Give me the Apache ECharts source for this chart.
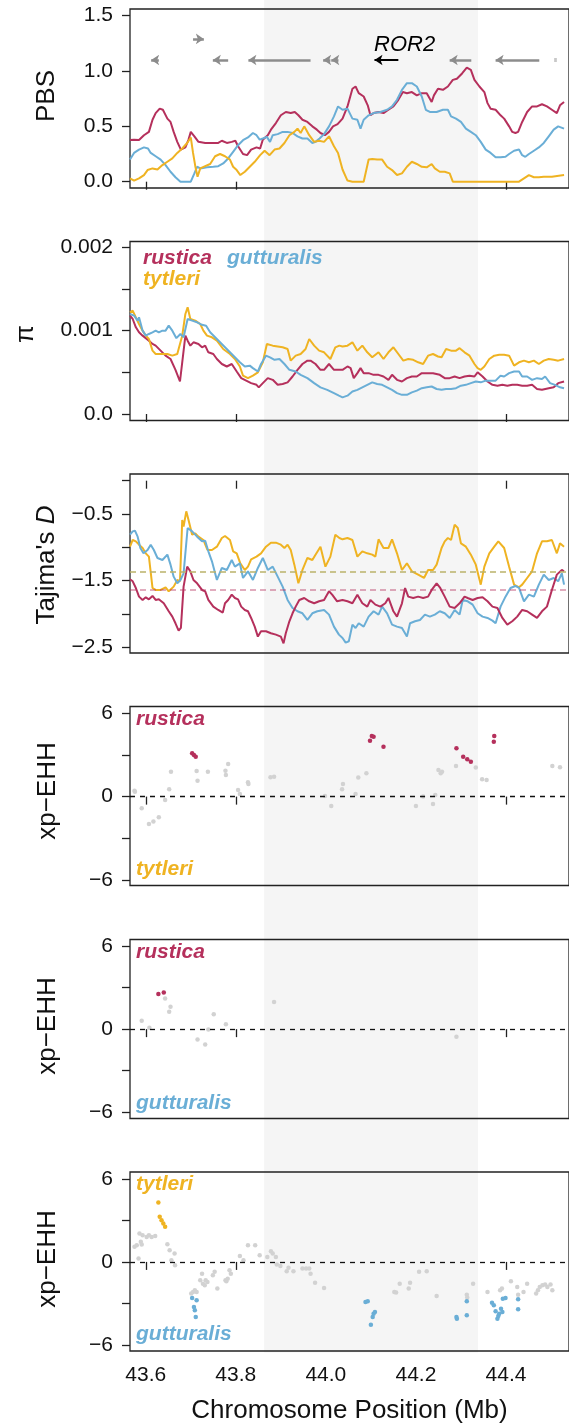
<!DOCTYPE html>
<html><head><meta charset="utf-8">
<script src="https://cdn.jsdelivr.net/npm/echarts@6/dist/echarts.min.js"></script>
<style>html,body{margin:0;padding:0;background:#fff}#c{width:569px;height:1426px}</style>
</head><body><div id="c"></div>
<script>
const FONT = "'Liberation Sans', Arial, Helvetica, sans-serif";
const C_RUS = '#b5305c', C_GUT = '#6aaed6', C_TYT = '#efb322', C_GRAY = '#d2d2d2';

// ---------- axes ----------
const xMin = 43.565, xMax = 44.54;
const xTicks = [43.6, 43.8, 44.0, 44.2, 44.4];
const shadeRegion = [43.863, 44.338];
const pbsTicks = [0, 0.5, 1.0, 1.5];
const piTicks = [0, 0.0005, 0.001, 0.0015, 0.002];
const piLabels = [0, 0.001, 0.002];
const tajTicks = [0, -0.5, -1, -1.5, -2, -2.5];
const tajLabels = [-0.5, -1.5, -2.5];
const xpTicks = [-6, -3, 0, 3, 6];
const xpLabels = [-6, 0, 6];
const tajMeans = {rustica: -1.63, gutturalis: -1.37, tytleri: -1.36};

// ---------- genes ----------
const geneStart = [43.612, 43.705, 43.749, 43.828, 43.994, 44.012, 44.108, 44.275, 44.377, 44.507];
const geneEnd   = [43.629, 43.729, 43.783, 43.966, 44.010, 44.028, 44.161, 44.323, 44.474, 44.513];
const geneStrand= [-1, 1, -1, -1, -1, -1, -1, -1, -1, 0];
const geneRow   = [1.1, 1.29, 1.1, 1.1, 1.1, 1.1, 1.1, 1.1, 1.1, 1.1];
const geneName  = ['', '', '', '', '', '', 'ROR2', '', '', ''];
const geneLabelPos = [44.175, 1.235];

// ---------- PBS ----------
const pbsRustica = [[43.565,0.376],[43.574,0.38],[43.585,0.376],[43.596,0.42],[43.607,0.45],[43.615,0.56],[43.622,0.62],[43.631,0.66],[43.638,0.65],[43.648,0.57],[43.655,0.54],[43.662,0.45],[43.670,0.36],[43.678,0.29],[43.688,0.31],[43.695,0.38],[43.700,0.45],[43.708,0.41],[43.717,0.36],[43.732,0.35],[43.747,0.35],[43.761,0.35],[43.769,0.37],[43.780,0.35],[43.791,0.36],[43.799,0.37],[43.805,0.32],[43.816,0.25],[43.825,0.24],[43.834,0.29],[43.846,0.31],[43.854,0.30],[43.860,0.38],[43.871,0.42],[43.878,0.47],[43.889,0.53],[43.900,0.60],[43.911,0.63],[43.922,0.62],[43.931,0.63],[43.939,0.60],[43.948,0.56],[43.959,0.54],[43.970,0.50],[43.980,0.47],[43.988,0.44],[43.998,0.42],[44.007,0.45],[44.016,0.50],[44.026,0.52],[44.037,0.57],[44.048,0.68],[44.059,0.84],[44.066,0.86],[44.073,0.80],[44.084,0.77],[44.093,0.69],[44.099,0.60],[44.106,0.62],[44.117,0.63],[44.128,0.62],[44.139,0.65],[44.150,0.68],[44.161,0.74],[44.171,0.81],[44.180,0.80],[44.191,0.81],[44.202,0.78],[44.213,0.80],[44.224,0.80],[44.235,0.72],[44.240,0.78],[44.249,0.84],[44.260,0.83],[44.271,0.86],[44.282,0.92],[44.291,0.93],[44.303,0.98],[44.313,1.03],[44.322,1.01],[44.330,0.92],[44.341,0.86],[44.352,0.81],[44.359,0.71],[44.366,0.66],[44.377,0.65],[44.388,0.60],[44.396,0.57],[44.407,0.50],[44.414,0.45],[44.421,0.44],[44.427,0.45],[44.436,0.54],[44.447,0.63],[44.458,0.68],[44.469,0.68],[44.480,0.70],[44.491,0.68],[44.502,0.65],[44.513,0.62],[44.520,0.69],[44.529,0.72]];
const pbsGutturalis = [[43.565,0.20],[43.574,0.26],[43.585,0.29],[43.596,0.31],[43.605,0.30],[43.611,0.26],[43.622,0.23],[43.633,0.20],[43.644,0.15],[43.655,0.09],[43.666,0.04],[43.677,0.0],[43.688,0.0],[43.700,0.0],[43.708,0.075],[43.714,0.135],[43.721,0.12],[43.736,0.13],[43.750,0.135],[43.761,0.14],[43.772,0.165],[43.783,0.21],[43.794,0.27],[43.805,0.33],[43.816,0.375],[43.827,0.40],[43.838,0.44],[43.846,0.42],[43.853,0.38],[43.860,0.39],[43.869,0.405],[43.876,0.36],[43.882,0.42],[43.893,0.43],[43.904,0.45],[43.915,0.45],[43.926,0.44],[43.937,0.41],[43.948,0.39],[43.959,0.39],[43.970,0.35],[43.977,0.36],[43.986,0.39],[43.996,0.43],[44.007,0.50],[44.018,0.59],[44.027,0.68],[44.037,0.65],[44.048,0.66],[44.059,0.57],[44.070,0.56],[44.077,0.48],[44.084,0.56],[44.095,0.60],[44.106,0.62],[44.121,0.63],[44.136,0.65],[44.147,0.68],[44.158,0.74],[44.169,0.83],[44.180,0.89],[44.191,0.89],[44.202,0.86],[44.213,0.77],[44.222,0.65],[44.231,0.63],[44.246,0.63],[44.260,0.65],[44.271,0.65],[44.278,0.59],[44.289,0.57],[44.300,0.54],[44.311,0.48],[44.322,0.45],[44.333,0.42],[44.344,0.36],[44.355,0.29],[44.366,0.26],[44.377,0.22],[44.388,0.22],[44.399,0.225],[44.407,0.25],[44.418,0.28],[44.429,0.29],[44.436,0.24],[44.443,0.225],[44.451,0.25],[44.462,0.28],[44.473,0.31],[44.484,0.35],[44.495,0.41],[44.506,0.47],[44.516,0.50],[44.529,0.48]];
const pbsTytleri = [[43.565,0.03],[43.574,0.01],[43.585,0.03],[43.596,0.06],[43.604,0.105],[43.615,0.12],[43.626,0.11],[43.637,0.15],[43.648,0.18],[43.659,0.21],[43.670,0.26],[43.681,0.30],[43.692,0.35],[43.700,0.40],[43.705,0.26],[43.710,0.14],[43.715,0.045],[43.721,0.12],[43.732,0.14],[43.743,0.16],[43.754,0.23],[43.765,0.25],[43.776,0.23],[43.787,0.20],[43.794,0.135],[43.802,0.105],[43.810,0.06],[43.820,0.09],[43.831,0.135],[43.842,0.18],[43.854,0.24],[43.864,0.28],[43.875,0.24],[43.886,0.29],[43.897,0.30],[43.908,0.35],[43.919,0.42],[43.930,0.45],[43.937,0.48],[43.944,0.44],[43.952,0.50],[43.963,0.42],[43.974,0.36],[43.985,0.37],[43.996,0.36],[44.007,0.41],[44.018,0.32],[44.027,0.26],[44.037,0.11],[44.048,0.01],[44.059,0.0],[44.084,0.0],[44.095,0.20],[44.103,0.205],[44.114,0.20],[44.125,0.20],[44.136,0.135],[44.147,0.105],[44.158,0.06],[44.169,0.075],[44.180,0.135],[44.191,0.18],[44.202,0.16],[44.213,0.135],[44.224,0.13],[44.235,0.16],[44.242,0.12],[44.253,0.09],[44.264,0.09],[44.275,0.075],[44.282,0.0],[44.429,0.0],[44.440,0.03],[44.451,0.06],[44.462,0.04],[44.473,0.04],[44.484,0.045],[44.502,0.045],[44.529,0.06]];

// ---------- pi (x 0.001) ----------
const piRustica = [[43.565,1.18],[43.571,1.14],[43.578,1.04],[43.585,0.98],[43.593,0.94],[43.600,0.91],[43.607,0.88],[43.615,0.84],[43.622,0.82],[43.633,0.76],[43.644,0.70],[43.655,0.66],[43.666,0.53],[43.676,0.39],[43.681,0.62],[43.688,0.94],[43.693,0.88],[43.699,0.82],[43.706,0.86],[43.717,0.84],[43.725,0.80],[43.732,0.82],[43.739,0.74],[43.750,0.72],[43.758,0.66],[43.769,0.60],[43.780,0.57],[43.791,0.60],[43.802,0.51],[43.812,0.43],[43.823,0.40],[43.834,0.37],[43.846,0.35],[43.851,0.32],[43.860,0.37],[43.871,0.43],[43.882,0.41],[43.893,0.35],[43.904,0.36],[43.915,0.38],[43.926,0.45],[43.937,0.53],[43.948,0.60],[43.959,0.64],[43.966,0.64],[43.977,0.60],[43.988,0.53],[43.996,0.53],[44.007,0.60],[44.018,0.53],[44.029,0.53],[44.037,0.53],[44.048,0.57],[44.055,0.55],[44.062,0.43],[44.070,0.49],[44.077,0.55],[44.084,0.49],[44.095,0.49],[44.106,0.47],[44.117,0.47],[44.128,0.45],[44.139,0.41],[44.147,0.47],[44.158,0.41],[44.169,0.39],[44.180,0.43],[44.191,0.45],[44.202,0.45],[44.213,0.49],[44.224,0.49],[44.238,0.49],[44.253,0.47],[44.264,0.43],[44.275,0.43],[44.286,0.45],[44.297,0.43],[44.308,0.45],[44.319,0.46],[44.330,0.45],[44.337,0.50],[44.348,0.45],[44.359,0.39],[44.370,0.35],[44.381,0.34],[44.392,0.35],[44.403,0.34],[44.414,0.35],[44.425,0.35],[44.436,0.34],[44.447,0.34],[44.458,0.35],[44.469,0.30],[44.480,0.29],[44.495,0.31],[44.506,0.32],[44.516,0.37],[44.529,0.39]];
const piGutturalis = [[43.565,1.20],[43.574,1.18],[43.582,1.12],[43.585,1.16],[43.593,1.00],[43.600,0.94],[43.607,0.96],[43.615,0.98],[43.622,1.00],[43.629,0.98],[43.637,1.00],[43.644,1.00],[43.651,1.06],[43.659,1.00],[43.668,0.91],[43.677,0.96],[43.684,0.92],[43.693,1.14],[43.703,1.12],[43.714,1.10],[43.725,1.07],[43.734,1.06],[43.743,0.98],[43.754,0.92],[43.765,0.86],[43.776,0.80],[43.787,0.74],[43.798,0.68],[43.809,0.62],[43.820,0.57],[43.831,0.58],[43.838,0.55],[43.849,0.51],[43.856,0.60],[43.867,0.70],[43.876,0.68],[43.886,0.65],[43.897,0.66],[43.908,0.60],[43.919,0.53],[43.933,0.51],[43.944,0.47],[43.959,0.43],[43.974,0.37],[43.988,0.32],[44.003,0.29],[44.018,0.25],[44.029,0.22],[44.037,0.20],[44.048,0.22],[44.059,0.27],[44.070,0.29],[44.081,0.32],[44.092,0.35],[44.103,0.38],[44.114,0.36],[44.125,0.35],[44.136,0.32],[44.147,0.29],[44.158,0.25],[44.169,0.23],[44.180,0.23],[44.191,0.26],[44.202,0.28],[44.213,0.31],[44.224,0.32],[44.235,0.33],[44.246,0.30],[44.257,0.29],[44.267,0.30],[44.278,0.30],[44.289,0.31],[44.300,0.34],[44.311,0.35],[44.322,0.37],[44.333,0.39],[44.344,0.38],[44.355,0.40],[44.366,0.40],[44.377,0.40],[44.388,0.46],[44.396,0.45],[44.407,0.49],[44.418,0.51],[44.429,0.51],[44.436,0.45],[44.447,0.45],[44.458,0.41],[44.469,0.43],[44.480,0.42],[44.487,0.45],[44.498,0.37],[44.509,0.35],[44.520,0.32],[44.529,0.31]];
const piTytleri = [[43.565,1.22],[43.571,1.24],[43.578,1.16],[43.585,1.08],[43.593,1.00],[43.600,0.94],[43.607,0.90],[43.615,0.76],[43.622,0.72],[43.633,0.72],[43.648,0.72],[43.659,0.70],[43.670,0.72],[43.673,0.78],[43.681,0.94],[43.688,1.20],[43.693,1.28],[43.699,1.14],[43.710,1.12],[43.721,1.08],[43.728,1.00],[43.736,0.94],[43.747,0.92],[43.758,0.88],[43.772,0.78],[43.787,0.72],[43.798,0.66],[43.809,0.57],[43.816,0.46],[43.827,0.43],[43.838,0.46],[43.849,0.50],[43.860,0.62],[43.869,0.84],[43.882,0.82],[43.893,0.81],[43.904,0.80],[43.915,0.78],[43.922,0.64],[43.933,0.70],[43.944,0.72],[43.955,0.78],[43.963,0.90],[43.974,0.82],[43.985,0.76],[43.996,0.74],[44.010,0.66],[44.021,0.80],[44.030,0.82],[44.037,0.81],[44.048,0.82],[44.059,0.86],[44.070,0.76],[44.081,0.82],[44.092,0.74],[44.103,0.68],[44.117,0.74],[44.128,0.66],[44.139,0.74],[44.150,0.80],[44.161,0.72],[44.172,0.64],[44.183,0.66],[44.194,0.65],[44.205,0.62],[44.216,0.60],[44.227,0.70],[44.238,0.72],[44.249,0.69],[44.257,0.68],[44.267,0.78],[44.278,0.76],[44.289,0.76],[44.297,0.79],[44.308,0.74],[44.319,0.70],[44.330,0.60],[44.337,0.55],[44.344,0.53],[44.352,0.57],[44.363,0.66],[44.374,0.70],[44.385,0.71],[44.396,0.71],[44.407,0.70],[44.418,0.58],[44.429,0.62],[44.440,0.64],[44.451,0.62],[44.462,0.64],[44.473,0.60],[44.484,0.64],[44.495,0.66],[44.506,0.65],[44.516,0.64],[44.529,0.66]];

// ---------- Tajima's D ----------
const tajRustica = [[43.565,-1.48],[43.571,-1.51],[43.578,-1.61],[43.585,-1.74],[43.593,-1.79],[43.600,-1.75],[43.607,-1.78],[43.615,-1.73],[43.622,-1.79],[43.629,-1.78],[43.640,-1.84],[43.651,-1.96],[43.659,-2.04],[43.666,-2.14],[43.673,-2.25],[43.678,-2.21],[43.684,-1.59],[43.692,-1.29],[43.699,-1.36],[43.706,-1.49],[43.714,-1.54],[43.725,-1.64],[43.732,-1.66],[43.739,-1.79],[43.750,-1.89],[43.761,-1.94],[43.771,-1.98],[43.776,-1.84],[43.783,-1.79],[43.791,-1.71],[43.798,-1.76],[43.805,-1.78],[43.812,-1.89],[43.820,-1.94],[43.827,-1.96],[43.834,-2.06],[43.842,-2.19],[43.849,-2.34],[43.856,-2.26],[43.867,-2.26],[43.878,-2.29],[43.889,-2.31],[43.900,-2.34],[43.906,-2.44],[43.911,-2.29],[43.919,-2.11],[43.926,-1.99],[43.933,-1.89],[43.941,-1.79],[43.952,-1.76],[43.963,-1.81],[43.974,-1.84],[43.985,-1.81],[43.996,-1.79],[44.007,-1.66],[44.014,-1.71],[44.025,-1.81],[44.037,-1.79],[44.048,-1.81],[44.059,-1.84],[44.070,-1.71],[44.081,-1.84],[44.092,-1.89],[44.099,-1.79],[44.110,-1.86],[44.121,-1.89],[44.132,-1.84],[44.139,-1.76],[44.150,-1.96],[44.158,-2.04],[44.169,-1.84],[44.176,-1.61],[44.183,-1.74],[44.194,-1.76],[44.205,-1.74],[44.216,-1.76],[44.227,-1.74],[44.235,-1.64],[44.246,-1.54],[44.254,-1.61],[44.264,-1.74],[44.275,-1.89],[44.286,-1.91],[44.297,-1.84],[44.308,-1.74],[44.315,-1.76],[44.326,-1.79],[44.337,-1.76],[44.348,-1.75],[44.359,-1.81],[44.370,-1.89],[44.381,-1.91],[44.392,-2.06],[44.403,-2.16],[44.414,-2.11],[44.425,-2.04],[44.436,-1.94],[44.447,-1.96],[44.458,-2.01],[44.469,-2.06],[44.480,-1.96],[44.491,-1.89],[44.502,-1.64],[44.513,-1.41],[44.524,-1.34],[44.529,-1.36]];
const tajGutturalis = [[43.565,-0.81],[43.571,-0.76],[43.576,-0.75],[43.582,-0.84],[43.588,-1.01],[43.595,-1.09],[43.604,-1.04],[43.611,-0.96],[43.618,-1.04],[43.626,-1.16],[43.637,-1.19],[43.648,-1.11],[43.655,-1.26],[43.662,-1.44],[43.670,-1.54],[43.677,-1.49],[43.684,-1.39],[43.693,-0.71],[43.703,-0.76],[43.714,-0.84],[43.725,-0.91],[43.732,-0.90],[43.739,-1.06],[43.747,-1.21],[43.758,-1.49],[43.769,-1.31],[43.780,-1.34],[43.791,-1.19],[43.798,-1.29],[43.809,-1.24],[43.816,-1.46],[43.827,-1.36],[43.838,-1.49],[43.849,-1.31],[43.860,-1.16],[43.871,-1.34],[43.882,-1.29],[43.893,-1.44],[43.904,-1.59],[43.915,-1.79],[43.926,-1.91],[43.937,-1.96],[43.948,-1.99],[43.959,-2.09],[43.970,-1.99],[43.981,-1.96],[43.996,-1.94],[44.007,-2.01],[44.018,-2.19],[44.029,-2.31],[44.037,-2.36],[44.044,-2.43],[44.051,-2.41],[44.059,-2.16],[44.066,-2.21],[44.073,-2.14],[44.084,-2.19],[44.095,-2.04],[44.106,-1.96],[44.117,-2.01],[44.125,-1.89],[44.136,-1.99],[44.147,-2.16],[44.158,-2.19],[44.169,-2.21],[44.180,-2.34],[44.187,-2.14],[44.198,-2.11],[44.209,-2.09],[44.220,-2.01],[44.231,-2.04],[44.242,-2.01],[44.253,-1.96],[44.264,-1.99],[44.275,-2.06],[44.286,-1.94],[44.297,-2.01],[44.304,-1.79],[44.315,-1.81],[44.326,-1.86],[44.337,-1.99],[44.348,-2.04],[44.359,-2.06],[44.370,-2.10],[44.377,-2.14],[44.388,-1.89],[44.399,-1.74],[44.410,-1.61],[44.421,-1.58],[44.429,-1.61],[44.440,-1.81],[44.451,-1.71],[44.462,-1.74],[44.473,-1.56],[44.484,-1.41],[44.495,-1.49],[44.506,-1.46],[44.516,-1.51],[44.524,-1.39],[44.529,-1.56]];
const tajTytleri = [[43.565,-0.99],[43.571,-0.89],[43.578,-0.91],[43.585,-0.96],[43.593,-1.01],[43.600,-1.09],[43.607,-1.14],[43.615,-1.61],[43.622,-1.64],[43.633,-1.64],[43.644,-1.60],[43.651,-1.66],[43.662,-1.59],[43.670,-1.49],[43.676,-1.51],[43.681,-0.59],[43.684,-0.69],[43.690,-0.46],[43.695,-0.59],[43.703,-0.81],[43.710,-0.79],[43.717,-0.84],[43.728,-0.89],[43.737,-1.04],[43.747,-1.04],[43.758,-0.99],[43.769,-0.86],[43.776,-0.83],[43.787,-0.89],[43.794,-1.06],[43.802,-1.09],[43.810,-1.24],[43.820,-1.34],[43.827,-1.29],[43.834,-1.18],[43.846,-1.14],[43.856,-1.09],[43.867,-0.99],[43.878,-0.93],[43.889,-0.93],[43.900,-0.96],[43.908,-1.01],[43.915,-0.96],[43.922,-1.04],[43.930,-1.26],[43.939,-1.54],[43.948,-1.34],[43.959,-1.16],[43.970,-1.19],[43.977,-1.11],[43.988,-0.99],[43.999,-1.29],[44.010,-1.14],[44.021,-0.81],[44.030,-0.86],[44.037,-0.88],[44.048,-0.86],[44.059,-0.89],[44.070,-1.14],[44.081,-1.06],[44.092,-1.09],[44.103,-1.11],[44.110,-1.14],[44.117,-0.88],[44.128,-1.01],[44.139,-1.01],[44.147,-0.88],[44.158,-1.09],[44.169,-1.34],[44.180,-1.24],[44.191,-1.36],[44.205,-1.41],[44.218,-1.46],[44.227,-1.34],[44.238,-1.34],[44.246,-1.26],[44.257,-1.01],[44.264,-0.91],[44.271,-0.86],[44.278,-0.89],[44.286,-0.66],[44.293,-0.71],[44.300,-0.94],[44.311,-0.99],[44.322,-1.11],[44.333,-1.26],[44.344,-1.56],[44.352,-1.29],[44.363,-1.09],[44.374,-0.99],[44.383,-0.91],[44.396,-1.01],[44.407,-1.29],[44.418,-1.56],[44.429,-1.60],[44.436,-1.56],[44.447,-1.46],[44.458,-1.36],[44.469,-1.09],[44.480,-0.91],[44.491,-0.91],[44.502,-0.89],[44.513,-1.09],[44.520,-0.94],[44.529,-0.99]];

// ---------- xp-EHH ----------
const xpRusTytNeutral = [[43.575,0.43],[43.576,0.36],[43.591,-0.84],[43.607,-1.97],[43.617,-1.80],[43.629,-1.49],[43.643,-0.24],[43.652,0.53],[43.656,1.80],[43.713,1.85],[43.715,1.15],[43.738,1.80],[43.777,1.87],[43.778,1.56],[43.783,2.35],[43.805,0.48],[43.809,0.19],[43.827,1.03],[43.828,0.91],[43.877,1.39],[43.885,1.44],[43.998,0.05],[44.012,-0.67],[44.036,0.53],[44.038,0.91],[44.066,0.19],[44.072,1.37],[44.090,1.68],[44.200,-0.67],[44.216,0.0],[44.238,-0.53],[44.243,0.12],[44.250,1.92],[44.255,1.68],[44.258,1.80],[44.289,2.21],[44.333,2.09],[44.347,1.25],[44.357,1.20],[44.503,2.21],[44.520,2.11]];
const xpRusTytRustica = [[43.703,3.12],[43.707,3.0],[43.711,2.88],[44.098,4.03],[44.102,4.37],[44.106,4.32],[44.128,3.60],[44.290,3.48],[44.305,2.88],[44.314,2.69],[44.322,2.52],[44.374,4.37],[44.373,3.96]];
const xpRusTytTytleri = [];
const xpRusGutNeutral = [[43.591,0.60],[43.608,0.10],[43.643,2.22],[43.652,1.25],[43.655,1.61],[43.715,-0.75],[43.732,-1.11],[43.739,-0.02],[43.751,1.08],[43.778,0.36],[43.885,1.95],[44.290,-0.55]];
const xpRusGutRustica = [[43.628,2.53],[43.640,2.65]];
const xpRusGutGutturalis = [];
const xpTytGutNeutral = [[43.575,1.09],[43.580,1.21],[43.584,0.24],[43.586,2.05],[43.589,1.45],[43.591,1.26],[43.593,1.93],[43.602,1.81],[43.607,1.93],[43.613,1.81],[43.621,1.88],[43.648,1.28],[43.653,0.85],[43.657,0.12],[43.664,0.60],[43.665,-0.24],[43.701,-2.29],[43.705,-2.17],[43.709,-2.05],[43.713,-2.17],[43.721,-1.33],[43.725,-0.85],[43.727,-1.57],[43.731,-1.69],[43.733,-1.33],[43.737,-1.45],[43.749,-0.97],[43.753,-0.72],[43.759,-1.93],[43.777,-1.33],[43.779,-1.40],[43.782,-1.21],[43.786,-0.60],[43.789,-0.85],[43.809,0.43],[43.817,0.12],[43.827,1.21],[43.843,1.21],[43.853,0.48],[43.870,0.36],[43.878,0.77],[43.882,0.60],[43.889,0.36],[43.891,-0.19],[43.899,-0.29],[43.913,-0.68],[43.917,-0.43],[43.928,-0.68],[43.948,-0.48],[43.956,-0.48],[43.963,-0.48],[43.966,-0.85],[43.976,-1.50],[43.996,-1.88],[44.152,-2.17],[44.156,-2.22],[44.164,-1.57],[44.184,-1.93],[44.187,-1.50],[44.207,-0.72],[44.224,-0.68],[44.246,-2.46],[44.313,-2.37],[44.314,-2.58],[44.327,-1.57],[44.359,-2.17],[44.387,-2.05],[44.391,-1.93],[44.411,-1.40],[44.425,-1.81],[44.427,-2.37],[44.439,-2.17],[44.447,-1.57],[44.467,-2.29],[44.471,-2.05],[44.475,-1.81],[44.481,-1.69],[44.487,-1.64],[44.492,-1.81],[44.499,-1.64],[44.503,-2.05]];
const xpTytGutTytleri = [[43.628,4.30],[43.631,3.26],[43.635,3.02],[43.639,2.78],[43.643,2.54]];
const xpTytGutGutturalis = [[43.703,-2.61],[43.707,-3.26],[43.709,-3.50],[43.711,-3.98],[43.713,-2.78],[44.088,-2.90],[44.093,-2.85],[44.100,-4.54],[44.104,-3.98],[44.106,-3.74],[44.109,-3.62],[44.290,-3.98],[44.291,-4.10],[44.313,-3.86],[44.313,-2.85],[44.369,-2.95],[44.373,-3.14],[44.377,-3.57],[44.381,-4.10],[44.383,-3.91],[44.385,-3.74],[44.389,-3.38],[44.392,-3.62],[44.393,-2.66],[44.399,-2.61],[44.427,-2.70],[44.427,-3.43]];

// ---------- layout ----------
const pxPerMb = 455;
const gridLeft = 130;
const gridW = (xMax - xMin) * pxPerMb;
const panelTop = [9, 241.5, 474, 706.5, 939.5, 1172];
const panelH = 179;
const yRange = [[-0.057, 1.5605], [-0.078, 2.0696], [-2.586, 0.1005], [-6.40, 6.49], [-6.45, 6.47], [-6.44, 6.5]];
const AX = '#222', TXT = '#111';

const minus = v => v < 0 ? '\u2212' + Math.abs(v) : String(v);
const yCfg = [
  {ticks: pbsTicks, labels: pbsTicks, fmt: v => v.toFixed(1)},
  {ticks: piTicks.map(v => v * 1000), labels: piLabels.map(v => v * 1000), fmt: v => v === 0 ? '0.0' : (v / 1000).toFixed(3)},
  {ticks: tajTicks, labels: tajLabels, fmt: v => (v < 0 ? '\u2212' : '') + Math.abs(v).toFixed(1)},
  {ticks: xpTicks, labels: xpLabels, fmt: minus},
  {ticks: xpTicks, labels: xpLabels, fmt: minus},
  {ticks: xpTicks, labels: xpLabels, fmt: minus}
];

const grids = [{left: gridLeft, top: 0, width: gridW, height: 1352.5, show: false}];
const xAxes = [{gridIndex: 0, type: 'value', min: xMin, max: xMax, show: false}];
const yAxes = [{gridIndex: 0, type: 'value', min: 0, max: 1, show: false}];
for (let p = 0; p < 6; p++) {
  grids.push({left: gridLeft, top: panelTop[p], width: gridW, height: panelH, show: true,
    borderColor: AX, borderWidth: 1.3, backgroundColor: 'transparent', z: 3});
  const last = p === 5;
  xAxes.push({
    gridIndex: p + 1, type: 'value', min: xMin, max: xMax,
    axisLine: {show: false}, splitLine: {show: false},
    axisTick: {show: true, customValues: xTicks, length: 8, lineStyle: {color: AX, width: 1.3}},
    axisLabel: {show: last, customValues: xTicks, formatter: v => v.toFixed(1), fontSize: 21, color: TXT, fontFamily: FONT, margin: 14},
    name: last ? 'Chromosome Position (Mb)' : '', nameLocation: 'middle', nameGap: 47,
    nameTextStyle: {fontSize: 26, color: TXT, fontFamily: FONT}
  });
  const c = yCfg[p];
  yAxes.push({
    gridIndex: p + 1, type: 'value', min: yRange[p][0], max: yRange[p][1],
    axisLine: {show: false}, splitLine: {show: false},
    axisTick: {show: true, customValues: c.ticks, length: 8, lineStyle: {color: AX, width: 1.3}},
    axisLabel: {show: true, customValues: c.labels, formatter: c.fmt, fontSize: 21, color: TXT, fontFamily: FONT, margin: 17}
  });
}

function lineS(idx, data, color, z) {
  return {type: 'line', xAxisIndex: idx, yAxisIndex: idx, data: data, showSymbol: false, symbol: 'none',
    lineStyle: {color: color, width: 2}, itemStyle: {color: color}, z: z || 4, clip: true, silent: true};
}
function refLine(idx, y, color, dash, offset, width) {
  return {type: 'line', xAxisIndex: idx, yAxisIndex: idx, data: [], z: 2, silent: true,
    markLine: {silent: true, symbol: 'none', label: {show: false}, animation: false,
      lineStyle: {color: color, type: dash, dashOffset: offset || 0, width: width || 1.5},
      data: [{yAxis: y}]}};
}
function dots(idx, data, color, z) {
  return {type: 'scatter', xAxisIndex: idx, yAxisIndex: idx, data: data, symbolSize: 4.5,
    itemStyle: {color: color, opacity: 1}, z: z || 4, silent: true};
}

const arrowGenes = [], plainGenes = [], blackGenes = [];
for (let i = 0; i < geneStart.length; i++) {
  const y = geneRow[i];
  const coords = geneStrand[i] >= 0 ? [[geneStart[i], y], [geneEnd[i], y]] : [[geneEnd[i], y], [geneStart[i], y]];
  if (geneName[i]) blackGenes.push({coords});
  else if (geneStrand[i] === 0) plainGenes.push({coords});
  else arrowGenes.push({coords});
}

const series = [
  {type: 'line', xAxisIndex: 0, yAxisIndex: 0, data: [[shadeRegion[0], 0.5]], symbol: 'none', lineStyle: {width: 0}, z: 0, silent: true,
    markArea: {silent: true, itemStyle: {color: '#f5f5f5'}, data: [[{xAxis: shadeRegion[0]}, {xAxis: shadeRegion[1]}]]}},
  {type: 'lines', coordinateSystem: 'cartesian2d', xAxisIndex: 1, yAxisIndex: 1, data: arrowGenes,
    symbol: ['none', 'arrow'], symbolSize: 8, lineStyle: {color: '#8c8c8c', width: 2.5, opacity: 1}, z: 4, silent: true},
  {type: 'lines', coordinateSystem: 'cartesian2d', xAxisIndex: 1, yAxisIndex: 1, data: plainGenes,
    symbol: ['none', 'none'], lineStyle: {color: '#c8c8c8', width: 4, opacity: 1}, z: 4, silent: true},
  {type: 'lines', coordinateSystem: 'cartesian2d', xAxisIndex: 1, yAxisIndex: 1, data: blackGenes,
    symbol: ['none', 'arrow'], symbolSize: 8, lineStyle: {color: '#000', width: 2, opacity: 1}, z: 4, silent: true},
  {type: 'scatter', xAxisIndex: 1, yAxisIndex: 1, data: [[geneLabelPos[0], geneLabelPos[1], 'ROR2']], symbolSize: 0,
    itemStyle: {color: '#000', opacity: 1}, silent: true, z: 6,
    label: {show: true, position: 'inside', formatter: p => p.data[2], fontSize: 22, fontStyle: 'italic', color: '#000', opacity: 1, fontFamily: FONT}},
  lineS(1, pbsRustica, C_RUS), lineS(1, pbsGutturalis, C_GUT), lineS(1, pbsTytleri, C_TYT),
  lineS(2, piRustica, C_RUS), lineS(2, piTytleri, C_TYT), lineS(2, piGutturalis, C_GUT),
  refLine(3, tajMeans.gutturalis, 'rgba(106,174,214,0.55)', [6, 4], 0, 2),
  refLine(3, tajMeans.tytleri, 'rgba(239,179,34,0.45)', [6, 4], 0, 2),
  refLine(3, tajMeans.rustica, 'rgba(181,48,92,0.4)', [6, 4], 0, 2),
  lineS(3, tajTytleri, C_TYT), lineS(3, tajGutturalis, C_GUT), lineS(3, tajRustica, C_RUS),
  refLine(4, 0, '#111', [5, 5], 0, 1.3),
  dots(4, xpRusTytNeutral, C_GRAY), dots(4, xpRusTytRustica, C_RUS, 5), dots(4, xpRusTytTytleri, C_TYT, 5),
  refLine(5, 0, '#111', [5, 5], 0, 1.3),
  dots(5, xpRusGutNeutral, C_GRAY), dots(5, xpRusGutRustica, C_RUS, 5), dots(5, xpRusGutGutturalis, C_GUT, 5),
  refLine(6, 0, '#111', [5, 5], 0, 1.3),
  dots(6, xpTytGutNeutral, C_GRAY), dots(6, xpTytGutTytleri, C_TYT, 5), dots(6, xpTytGutGutturalis, C_GUT, 5)
];

function tx(x, y, text, opts) {
  return Object.assign({type: 'text', x: x, y: y, silent: true, z: 10,
    style: Object.assign({text: text, fontSize: 26, fontFamily: FONT, fill: TXT, align: 'center', verticalAlign: 'middle'}, opts && opts.style)},
    opts && opts.el);
}
const R90 = {rotation: Math.PI / 2};
function sp(x, y, text, color) {
  return tx(x, y, text, {style: {fill: color, fontSize: 21, fontWeight: 'bold', fontStyle: 'italic', align: 'left'}});
}
const graphic = [
  tx(47, 96, 'PBS', {el: R90}),
  tx(26, 334, '\u03c0', {el: R90, style: {fontSize: 26}}),
  Object.assign({type: 'text', x: 47, y: 565, rotation: Math.PI / 2, silent: true, z: 10,
    style: {text: "{a|Tajima's }{b|D}", align: 'center', verticalAlign: 'middle',
      rich: {a: {fontSize: 26, fontFamily: FONT, fill: TXT}, b: {fontSize: 26, fontFamily: FONT, fill: TXT, fontStyle: 'italic'}}}}),
  tx(48, 791, 'xp\u2212EHH', {el: R90}),
  tx(48, 1026, 'xp\u2212EHH', {el: R90}),
  tx(48, 1259, 'xp\u2212EHH', {el: R90}),
  sp(143, 258, 'rustica', C_RUS), sp(227, 258, 'gutturalis', C_GUT), sp(143, 279, 'tytleri', C_TYT),
  sp(136, 719, 'rustica', C_RUS), sp(136, 869, 'tytleri', C_TYT),
  sp(136, 952, 'rustica', C_RUS), sp(136, 1103, 'gutturalis', C_GUT),
  sp(136, 1184, 'tytleri', C_TYT), sp(136, 1334, 'gutturalis', C_GUT)
];

const chart = echarts.init(document.getElementById('c'), null, {renderer: 'canvas'});
chart.setOption({
  animation: false,
  backgroundColor: '#fff',
  textStyle: {fontFamily: FONT},
  grid: grids, xAxis: xAxes, yAxis: yAxes, series: series, graphic: graphic
});
</script></body></html>
